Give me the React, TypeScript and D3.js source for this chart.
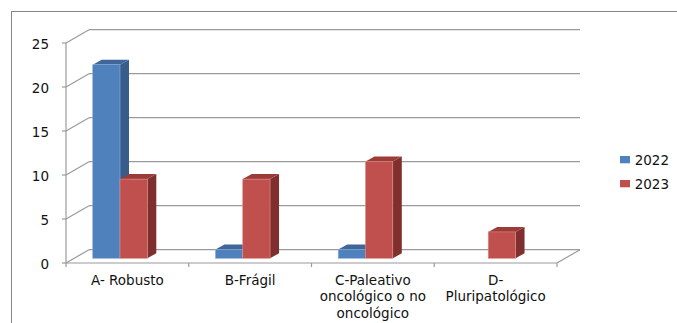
import React from "react";
import * as d3 from "d3";

// Chart data
const categories = ["A", "B", "C", "D"];
const categoryLabelLines = [
  ["A- Robusto"],
  ["B-Frágil"],
  ["C-Paleativo", "oncológico o no", "oncológico"],
  ["D-", "Pluripatológico"],
];
const seriesNames = ["2022", "2023"];
const values2022 = [22, 1, 1, 0];
const values2023 = [9, 9, 11, 3];
const yTicks = [0, 5, 10, 15, 20, 25];

const seriesValues = [values2022, values2023];
const frontColors = ["#4F81BD", "#C0504D"];
const sideColors = ["#385D8A", "#7F302E"];
const topColors = ["#3E6699", "#9B3C39"];
const edgeColors = ["#8FB0DA", "#DE8C89"];

const W = 677;
const H = 323;
const FONT = "'DejaVu Sans', sans-serif";

export default function App() {
  // front plane of the 3D box
  const left = 66;
  const right = 557;
  const y = d3.scaleLinear().domain([0, 25]).range([263, 43]);
  const x = d3.scaleBand<string>().domain(categories).range([left, right]);
  const sub = d3.scaleBand<string>().domain(seriesNames).range([26.7, 81.3]);
  const bw = sub.bandwidth();

  // depth offset of the back wall
  const dx = 23;
  const dy = -13.3;
  // bars sit part-way into the depth
  const barShiftY = -4.7;
  const bdx = 9;
  const bdy = -5;

  const grid = "#9a9a9a";
  const pts = (p: number[][]) => p.map((q) => q.join(",")).join(" ");

  const bars: React.ReactNode[] = [];
  categories.forEach((c, ci) => {
    seriesNames.forEach((s, si) => {
      const v = seriesValues[si][ci];
      if (!v) return;
      const x0 = (x(c) as number) + (sub(s) as number);
      const x1 = x0 + bw;
      const yb = y(0) + barShiftY;
      const yt = y(v) + barShiftY;
      bars.push(
        <g key={c + s}>
          <polygon
            points={pts([[x1, yt], [x1 + bdx, yt + bdy], [x1 + bdx, yb + bdy], [x1, yb]])}
            fill={sideColors[si]}
          />
          <polygon
            points={pts([[x0, yt], [x1, yt], [x1 + bdx, yt + bdy], [x0 + bdx, yt + bdy]])}
            fill={topColors[si]}
          />
          <rect
            x={x0}
            y={yt}
            width={bw}
            height={yb - yt}
            fill={frontColors[si]}
            stroke={edgeColors[si]}
            strokeWidth={0.6}
          />
        </g>
      );
    });
  });

  const bounds = [...categories.map((c) => x(c) as number), right];

  return (
    <svg
      width={W}
      height={H}
      style={{ position: "absolute", left: 0, top: 0, background: "#fff" }}
      fontFamily={FONT}
    >
      {/* outer frame */}
      <rect x={11.5} y={11.5} width={720} height={400} fill="none" stroke="#868686" strokeWidth={1} />

      {/* walls: left-side diagonals and back gridlines */}
      {yTicks.map((t) => (
        <g key={t}>
          <line x1={left} y1={y(t)} x2={left + dx} y2={y(t) + dy} stroke={grid} strokeWidth={1.2} />
          <line x1={left + dx} y1={y(t) + dy} x2={right + dx} y2={y(t) + dy} stroke={grid} strokeWidth={1.2} />
          <line x1={left - 4} y1={y(t)} x2={left} y2={y(t)} stroke={grid} strokeWidth={1.2} />
          <text x={49} y={y(t) + 1} dy="0.35em" textAnchor="end" fontSize={13.5} fill="#111">
            {t}
          </text>
        </g>
      ))}

      {/* floor edges and front axes */}
      <line x1={left} y1={y(0)} x2={right} y2={y(0)} stroke={grid} strokeWidth={1.2} />
      <line x1={right} y1={y(0)} x2={right + dx} y2={y(0) + dy} stroke={grid} strokeWidth={1.2} />
      <line x1={left} y1={y(25)} x2={left} y2={y(0)} stroke={grid} strokeWidth={1.2} />
      {bounds.map((b, i) => (
        <line key={i} x1={b} y1={y(0)} x2={b} y2={y(0) + 4} stroke={grid} strokeWidth={1.2} />
      ))}

      {bars}

      {/* category labels */}
      {categories.map((c, ci) => (
        <text
          key={c}
          x={(x(c) as number) + x.bandwidth() / 2}
          y={284.5}
          textAnchor="middle"
          fontSize={13.5}
          fill="#111"
        >
          {categoryLabelLines[ci].map((line, li) => (
            <tspan key={li} x={(x(c) as number) + x.bandwidth() / 2} dy={li === 0 ? 0 : 16.7}>
              {line}
            </tspan>
          ))}
        </text>
      ))}

      {/* legend */}
      {seriesNames.map((s, si) => (
        <g key={s} transform={`translate(620, ${156 + si * 24})`}>
          <rect x={0} y={0} width={10} height={7.3} fill={frontColors[si]} />
          <text x={14.7} y={8.5} fontSize={13.5} fill="#111">
            {s}
          </text>
        </g>
      ))}
    </svg>
  );
}
